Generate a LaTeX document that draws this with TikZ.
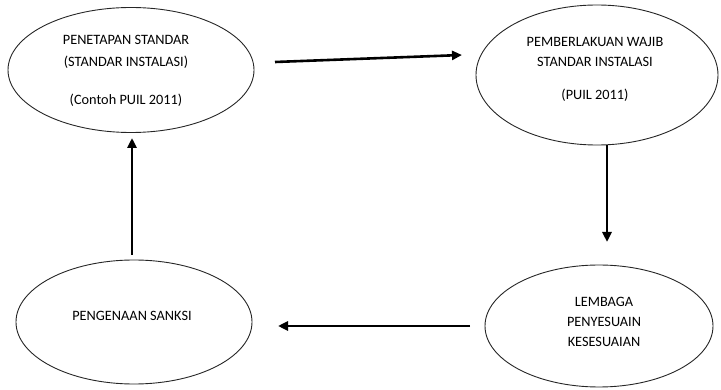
\documentclass[tikz,border=0pt]{standalone}
\usepackage{fontspec}
\setmainfont{Carlito}
\usetikzlibrary{shapes.geometric,arrows.meta}
\begin{document}
\begin{tikzpicture}[x=1pt,y=1pt,
  oval/.style={draw=black!85, line width=0.9pt, ellipse, inner sep=0pt},
  txt/.style={align=center, font=\fontsize{14.3}{20}\selectfont, text=black, inner sep=0pt},
  flow/.style={line width=2.6pt, -{Triangle[length=10pt,width=9pt]}}]
\useasboundingbox (0,0) rectangle (721,-390);
\node[oval, minimum width=246pt, minimum height=125pt] (e1) at (131,-70) {};
\node[oval, minimum width=242pt, minimum height=140pt] (e2) at (597,-75) {};
\node[oval, minimum width=236pt, minimum height=124pt] (e3) at (134,-322) {};
\node[oval, minimum width=228pt, minimum height=122pt] (e4) at (599,-326) {};
\node[txt, font=\fontsize{14.3}{22}\selectfont] (t1) at (126,-71) {PENETAPAN STANDAR\\(STANDAR INSTALASI)\\[16pt](Contoh PUIL 2011)};
\node[txt] (t2) at (595,-69) {PEMBERLAKUAN WAJIB\\STANDAR INSTALASI\\[13pt](PUIL 2011)};
\node[txt] (t3) at (132,-316) {PENGENAAN SANKSI};
\node[txt] (t4) at (604,-322) {LEMBAGA\\PENYESUAIN\\KESESUAIAN};
\coordinate (a1s) at (275,-62);
\coordinate (a1e) at (462,-55);
\coordinate (a2s) at (607,-145);
\coordinate (a2e) at (607,-242);
\coordinate (a3s) at (470,-326);
\coordinate (a3e) at (278,-326);
\coordinate (a4s) at (132,-255);
\coordinate (a4e) at (132,-138);
\draw[flow] (a1s) -- (a1e);
\draw[flow] (a2s) -- (a2e);
\draw[flow] (a3s) -- (a3e);
\draw[flow] (a4s) -- (a4e);
\end{tikzpicture}
\end{document}
